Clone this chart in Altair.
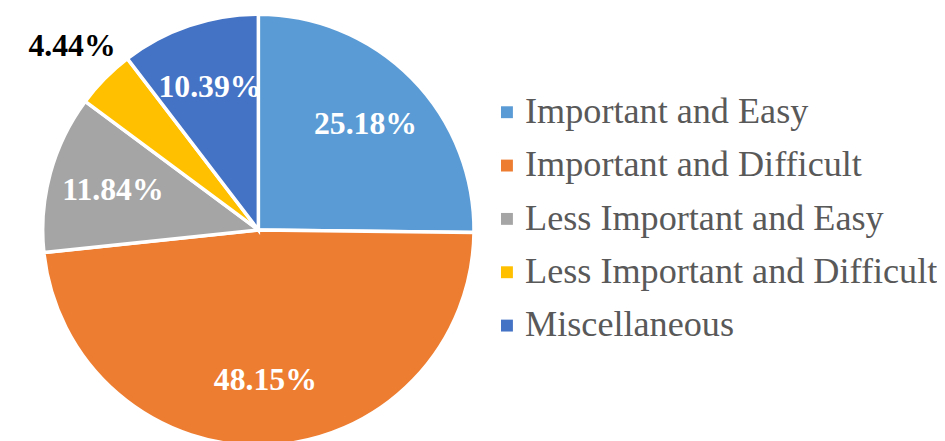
import altair as alt
import pandas as pd

categories = ["Important and Easy", "Important and Difficult", "Less Important and Easy",
              "Less Important and Difficult", "Miscellaneous"]
values = [25.18, 48.15, 11.84, 4.44, 10.39]
labels = ["25.18%", "48.15%", "11.84%", "4.44%", "10.39%"]
colors = ["#5B9BD5", "#ED7D31", "#A5A5A5", "#FFC000", "#4472C4"]

df = pd.DataFrame({"category": categories, "value": values, "label": labels,
                   "order": list(range(len(categories)))})

FONT = "Liberation Serif"
cx, cy = 252.5, 222.0

base = alt.Chart(df).encode(
    theta=alt.Theta("value:Q", stack=True),
    order=alt.Order("order:Q", sort="ascending"),
)

pie = base.mark_arc(outerRadius=217.5, stroke="white", strokeWidth=3.5).encode(
    x=alt.value(cx), y=alt.value(cy),
    color=alt.Color("category:N",
                    scale=alt.Scale(domain=categories, range=colors),
                    sort=categories,
                    legend=alt.Legend(title=None, orient="none", legendX=485, legendY=85,
                                      symbolType="square", symbolSize=144,
                                      symbolStrokeWidth=0, labelFont=FONT,
                                      labelFontSize=36.5, labelColor="#595959",
                                      labelOffset=0, rowPadding=16.8, padding=0,
                                      labelLimit=600)),
)

inner = base.transform_calculate(
    txt="datum.value < 5 ? '' : datum.label"
).mark_text(radius=152, font=FONT, fontSize=32, fontWeight="bold",
            color="white", align="center", baseline="middle").encode(
    x=alt.value(cx), y=alt.value(cy), text="txt:N")

outer = base.transform_calculate(
    txt="datum.value < 5 ? datum.label : ''"
).mark_text(radius=264, font=FONT, fontSize=32, fontWeight="bold",
            color="black", align="center", baseline="middle").encode(
    x=alt.value(cx), y=alt.value(cy), text="txt:N")

chart = alt.layer(pie, inner, outer).properties(
    width=937, height=433, autosize=alt.AutoSizeParams(type="none"), padding=0
).configure_view(stroke=None)

chart.save("out.html", embed_options={"renderer": "svg", "actions": False})
